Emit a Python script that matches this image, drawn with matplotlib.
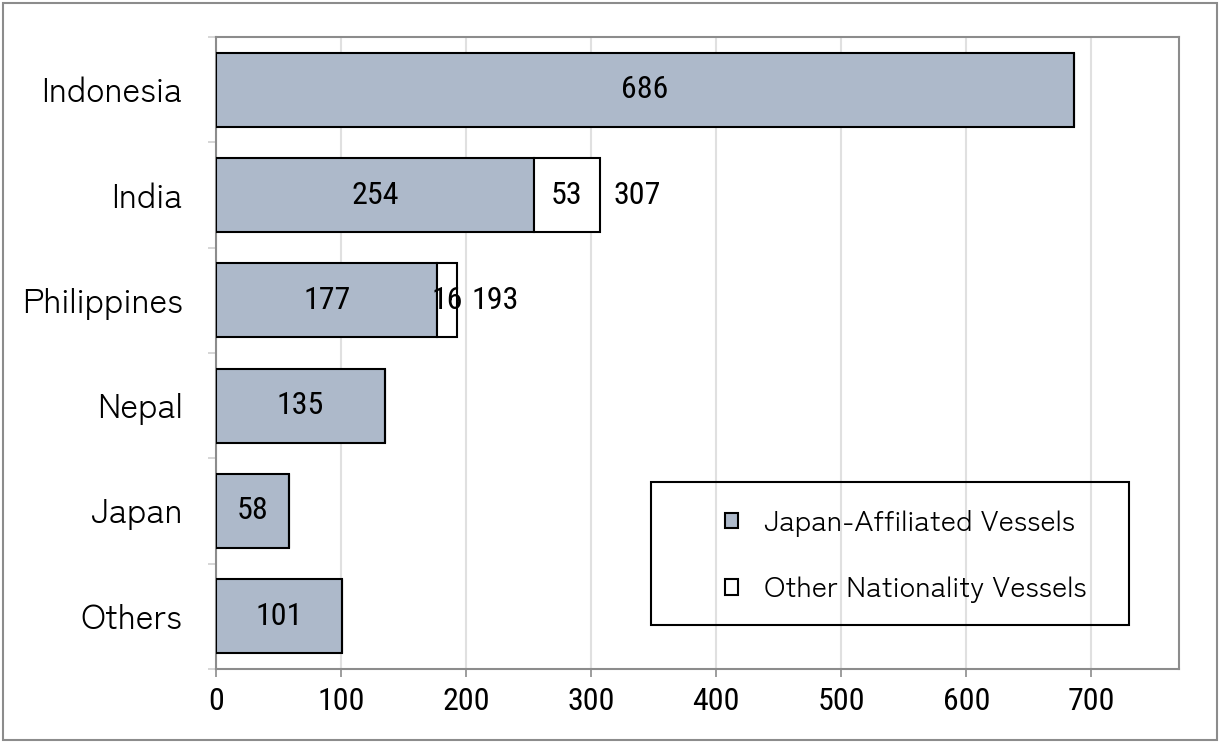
import matplotlib.pyplot as plt
from matplotlib.patches import Rectangle
from matplotlib.ticker import FixedLocator

countries = ['Indonesia', 'India', 'Philippines', 'Nepal', 'Japan', 'Others']
japan_vessels = [686, 254, 177, 135, 58, 101]
other_vessels = [0, 53, 16, 0, 0, 0]
series_names = ['Japan-Affiliated Vessels', 'Other Nationality Vessels']

num_font = ['Roboto Condensed', 'DejaVu Sans']
txt_font = ['Zen Kaku Gothic New', 'Noto Sans CJK JP', 'DejaVu Sans']
grey = '#8c8c8c'
num_size = 23

fig = plt.figure(figsize=(12.19, 7.43), dpi=100)
ax = fig.add_axes([0.1772, 0.0996, 0.79, 0.8506])

y = list(range(len(countries)))
b1 = ax.barh(y, japan_vessels, height=0.7, color='#adb9ca', edgecolor='black',
             linewidth=1.5, label=series_names[0], zorder=3)
b2 = ax.barh(y, other_vessels, left=japan_vessels, height=0.7, color='white',
             edgecolor='black', linewidth=1.5, label=series_names[1], zorder=3)

ax.bar_label(b1, labels=[str(v) for v in japan_vessels], label_type='center',
             fontsize=num_size, family=num_font, zorder=4)
ax.bar_label(b2, labels=[str(v) if v else '' for v in other_vessels], label_type='center',
             fontsize=num_size, family=num_font, zorder=4)
for i, (a, b) in enumerate(zip(japan_vessels, other_vessels)):
    if b:
        ax.annotate(str(a + b), (a + b, i), xytext=(10, 0), textcoords='offset points',
                    ha='left', va='center', fontsize=num_size, family=num_font)

ax.set_xlim(0, 770)
ax.set_ylim(5.5, -0.5)
ax.set_xticks(range(0, 800, 100))
ax.set_yticks(y)
ax.set_yticklabels(countries, fontsize=24.5, family=txt_font)
for lab in ax.get_xticklabels():
    lab.set_fontsize(num_size)
    lab.set_family(num_font)
ax.yaxis.set_minor_locator(FixedLocator([i - 0.5 for i in range(len(countries) + 1)]))
ax.tick_params(axis='y', which='major', length=0, pad=24)
ax.tick_params(axis='y', which='minor', length=6, color='#d0d0d0', width=1.2)
ax.tick_params(axis='x', length=6, color=grey, width=1.2, pad=7)
ax.grid(axis='x', color='#e0e0e0', linewidth=1.5, zorder=0)
ax.set_axisbelow(True)
for s in ax.spines.values():
    s.set_color(grey)
    s.set_linewidth(1.5)

leg = ax.legend(loc='upper left', bbox_to_anchor=(0.5286, 0.252), frameon=False,
                prop={'family': txt_font, 'size': 21}, handlelength=0.45, handleheight=0.45,
                handletextpad=0.9, labelspacing=1.38, borderpad=0, borderaxespad=0)

ax.add_patch(Rectangle((0.452, 0.069), 0.496, 0.2275, transform=ax.transAxes, fill=False,
                       edgecolor='black', linewidth=1.5, zorder=5, clip_on=False))
fig.patches.append(Rectangle((0.0025, 0.004), 0.9955, 0.992, transform=fig.transFigure,
                             fill=False, edgecolor=grey, linewidth=1.5))

fig.savefig('out.png', dpi=100)
